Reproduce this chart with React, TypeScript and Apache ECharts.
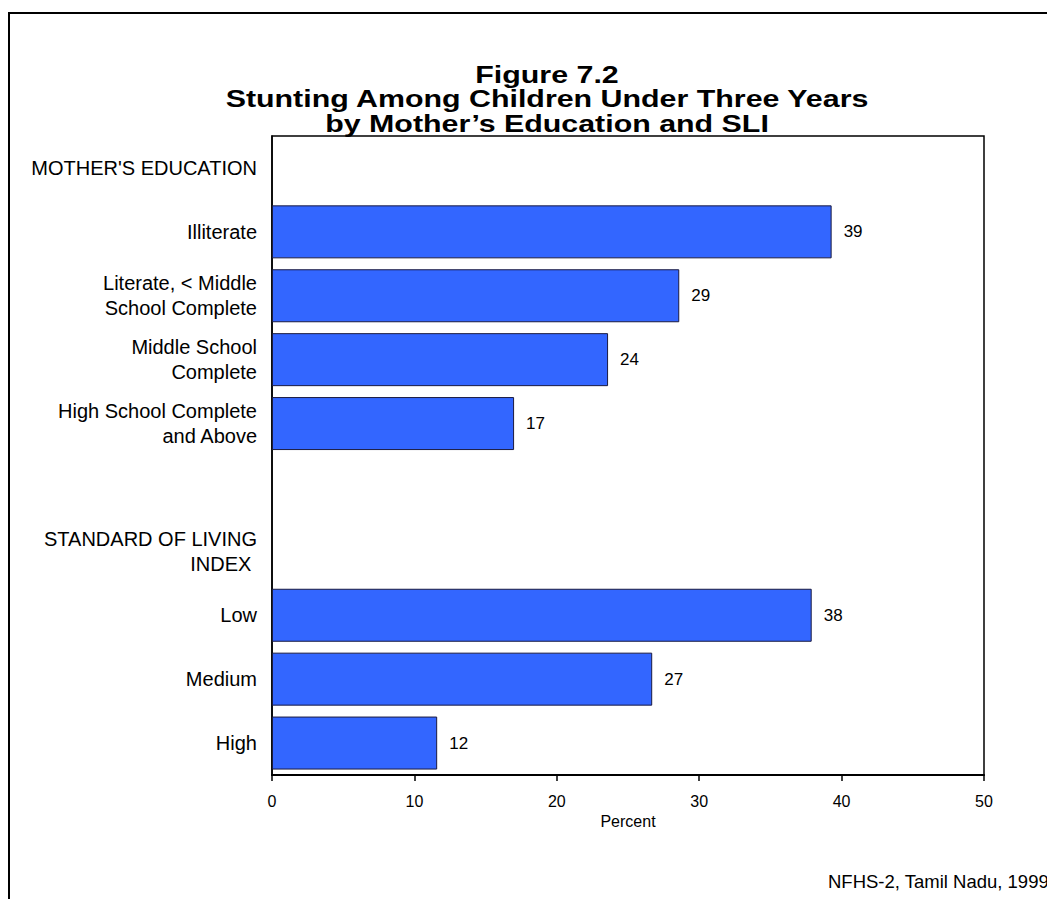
import React, { useEffect, useRef } from "react";
import * as echarts from "echarts";

const categories = [
  "MOTHER'S EDUCATION",
  "Illiterate",
  "Literate, < Middle\nSchool Complete",
  "Middle School\nComplete",
  "High School Complete\nand Above",
  "",
  "STANDARD OF LIVING\nINDEX ",
  "Low",
  "Medium",
  "High",
];
const values: (number | null)[] = [null, 39.3, 28.6, 23.6, 17.0, null, null, 37.9, 26.7, 11.6];
const valueLabels = ["", "39", "29", "24", "17", "", "", "38", "27", "12"];
const xTicks = [0, 10, 20, 30, 40, 50];

const titleText = "Figure 7.2\nStunting Among Children Under Three Years\nby Mother\u2019s Education and SLI";
const sourceText = "NFHS-2, Tamil Nadu, 1999";
const FONT = "'Liberation Sans', Arial, sans-serif";

export default function App() {
  const ref = useRef<HTMLDivElement>(null);
  useEffect(() => {
    if (!ref.current) return;
    const chart = echarts.init(ref.current, undefined, { renderer: "svg" });
    chart.setOption({
      animation: false,
      backgroundColor: "#ffffff",
      textStyle: { fontFamily: FONT },
      grid: {
        left: 272,
        top: 136,
        width: 712,
        height: 639,
        show: true,
        borderColor: "#000",
        borderWidth: 1.5,
        backgroundColor: "transparent",
      },
      xAxis: {
        type: "value",
        min: xTicks[0],
        max: xTicks[xTicks.length - 1],
        interval: 10,
        name: "Percent",
        nameLocation: "middle",
        nameGap: 38,
        nameTextStyle: { fontSize: 16, color: "#000", fontFamily: FONT },
        axisLine: { show: true, lineStyle: { color: "#000", width: 2 } },
        axisTick: { show: true, length: 6, lineStyle: { color: "#000", width: 1.5 } },
        axisLabel: { fontSize: 16, color: "#000", margin: 18, fontFamily: FONT },
        splitLine: { show: false },
      },
      yAxis: {
        type: "category",
        data: categories,
        inverse: true,
        axisLine: { show: true, lineStyle: { color: "#000", width: 1.5 } },
        axisTick: { show: false },
        axisLabel: {
          fontSize: 20,
          lineHeight: 25,
          color: "#000",
          margin: 15,
          align: "right",
          fontFamily: FONT,
        },
      },
      series: [
        {
          type: "bar",
          data: values,
          barWidth: 53,
          itemStyle: { color: "#3366FF", borderColor: "#1a1a40", borderWidth: 1 },
          label: {
            show: true,
            position: "right",
            distance: 12,
            fontSize: 17,
            color: "#000",
            fontFamily: FONT,
            formatter: (p: any) => valueLabels[p.dataIndex],
          },
        },
      ],
      graphic: [
        {
          type: "rect",
          shape: { x: 9, y: 13, width: 1200, height: 1000 },
          style: { fill: "none", stroke: "#000", lineWidth: 2 },
          silent: true,
        },
        {
          type: "text",
          x: 547,
          y: 62,
          scaleX: 1.24,
          style: {
            text: titleText,
            fontSize: 24.5,
            fontWeight: "bold",
            lineHeight: 24.5,
            fill: "#000",
            textAlign: "center",
            textVerticalAlign: "top",
            fontFamily: FONT,
          },
        },
        {
          type: "text",
          x: 828,
          y: 881,
          style: {
            text: sourceText,
            fontSize: 18.5,
            fill: "#000",
            textAlign: "left",
            textVerticalAlign: "middle",
            fontFamily: FONT,
          },
        },
      ],
    });
    return () => chart.dispose();
  }, []);
  return (
    <div
      ref={ref}
      style={{ position: "fixed", left: 0, top: 0, width: 1047, height: 899 }}
    />
  );
}
